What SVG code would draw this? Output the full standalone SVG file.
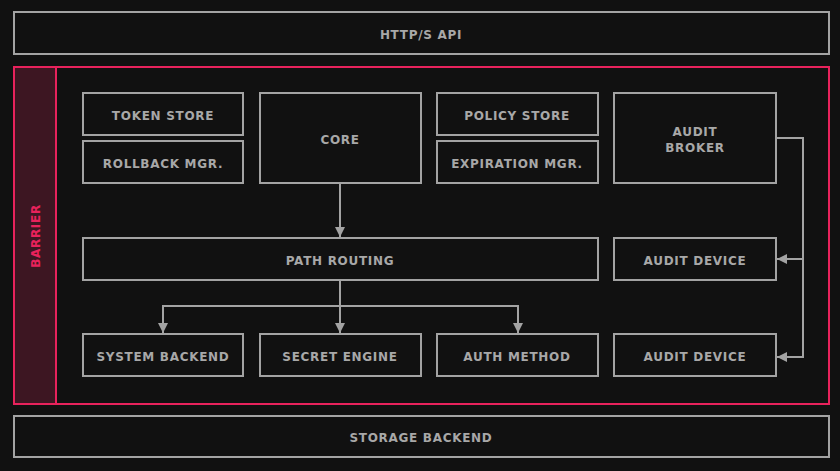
<svg xmlns="http://www.w3.org/2000/svg" width="840" height="471" viewBox="0 0 840 471">
<defs>
<style>
.box{fill:#111111;stroke:#a3a3a3;stroke-width:2}
.t{font-family:"DejaVu Sans",sans-serif;font-weight:bold;font-size:12px;fill:#a8a8a8;text-anchor:middle;dominant-baseline:central;letter-spacing:0.7px}
.c{fill:none;stroke:#a3a3a3;stroke-width:2}
</style>
<marker id="ah" viewBox="0 0 10 10" refX="10" refY="5" markerWidth="5" markerHeight="5" orient="auto" markerUnits="strokeWidth">
<path d="M0,0 L10,5 L0,10 z" fill="#a3a3a3"/>
</marker>
</defs>
<rect x="0" y="0" width="840" height="471" fill="#111111"/>
<g id="api"><rect class="box" x="14" y="12" width="815" height="42"/><text class="t" x="421" y="34.5">HTTP/S API</text></g>
<g id="barrier">
<rect x="14" y="67" width="815" height="337" fill="#111111" stroke="#e8225c" stroke-width="2"/>
<rect x="14" y="67" width="42" height="337" fill="#3d1622" stroke="#e8225c" stroke-width="2"/>
<text class="t" transform="translate(36,236) rotate(-90)" style="fill:#e8225c;font-size:12px">BARRIER</text>
</g>
<g id="token-store"><rect class="box" x="83" y="93" width="160" height="42"/><text class="t" x="163" y="115.5">TOKEN STORE</text></g>
<g id="rollback"><rect class="box" x="83" y="141" width="160" height="42"/><text class="t" x="163" y="163.5">ROLLBACK MGR.</text></g>
<g id="core"><rect class="box" x="260" y="93" width="161" height="90"/><text class="t" x="340" y="139.5">CORE</text></g>
<g id="policy-store"><rect class="box" x="437" y="93" width="161" height="42"/><text class="t" x="517" y="115.5">POLICY STORE</text></g>
<g id="expiration"><rect class="box" x="437" y="141" width="161" height="42"/><text class="t" x="517" y="163.5">EXPIRATION MGR.</text></g>
<g id="audit-broker"><rect class="box" x="614" y="93" width="162" height="90"/><text class="t" x="695" y="131.5">AUDIT</text><text class="t" x="695" y="147.5">BROKER</text></g>
<g id="path-routing"><rect class="box" x="83" y="238" width="515" height="42"/><text class="t" x="340" y="260.5">PATH ROUTING</text></g>
<g id="audit-device-1"><rect class="box" x="614" y="238" width="162" height="42"/><text class="t" x="695" y="260.5">AUDIT DEVICE</text></g>
<g id="system-backend"><rect class="box" x="83" y="334" width="160" height="42"/><text class="t" x="163" y="357">SYSTEM BACKEND</text></g>
<g id="secret-engine"><rect class="box" x="260" y="334" width="161" height="42"/><text class="t" x="340" y="357">SECRET ENGINE</text></g>
<g id="auth-method"><rect class="box" x="437" y="334" width="161" height="42"/><text class="t" x="517" y="357">AUTH METHOD</text></g>
<g id="audit-device-2"><rect class="box" x="614" y="334" width="162" height="42"/><text class="t" x="695" y="357">AUDIT DEVICE</text></g>
<g id="storage"><rect class="box" x="14" y="416" width="815" height="41"/><text class="t" x="421" y="438">STORAGE BACKEND</text></g>
<g id="connectors">
<path class="c" d="M340,184 V237" marker-end="url(#ah)"/>
<path class="c" d="M340,281 V333" marker-end="url(#ah)"/>
<path class="c" d="M163,333 V306 H518 V333" marker-end="url(#ah)"/>
<path class="c" d="M163,306 V333" marker-end="url(#ah)"/>
<path class="c" d="M777,138 H803 V357 H777" marker-end="url(#ah)"/>
<path class="c" d="M803,259 H777" marker-end="url(#ah)"/>
</g>
</svg>
